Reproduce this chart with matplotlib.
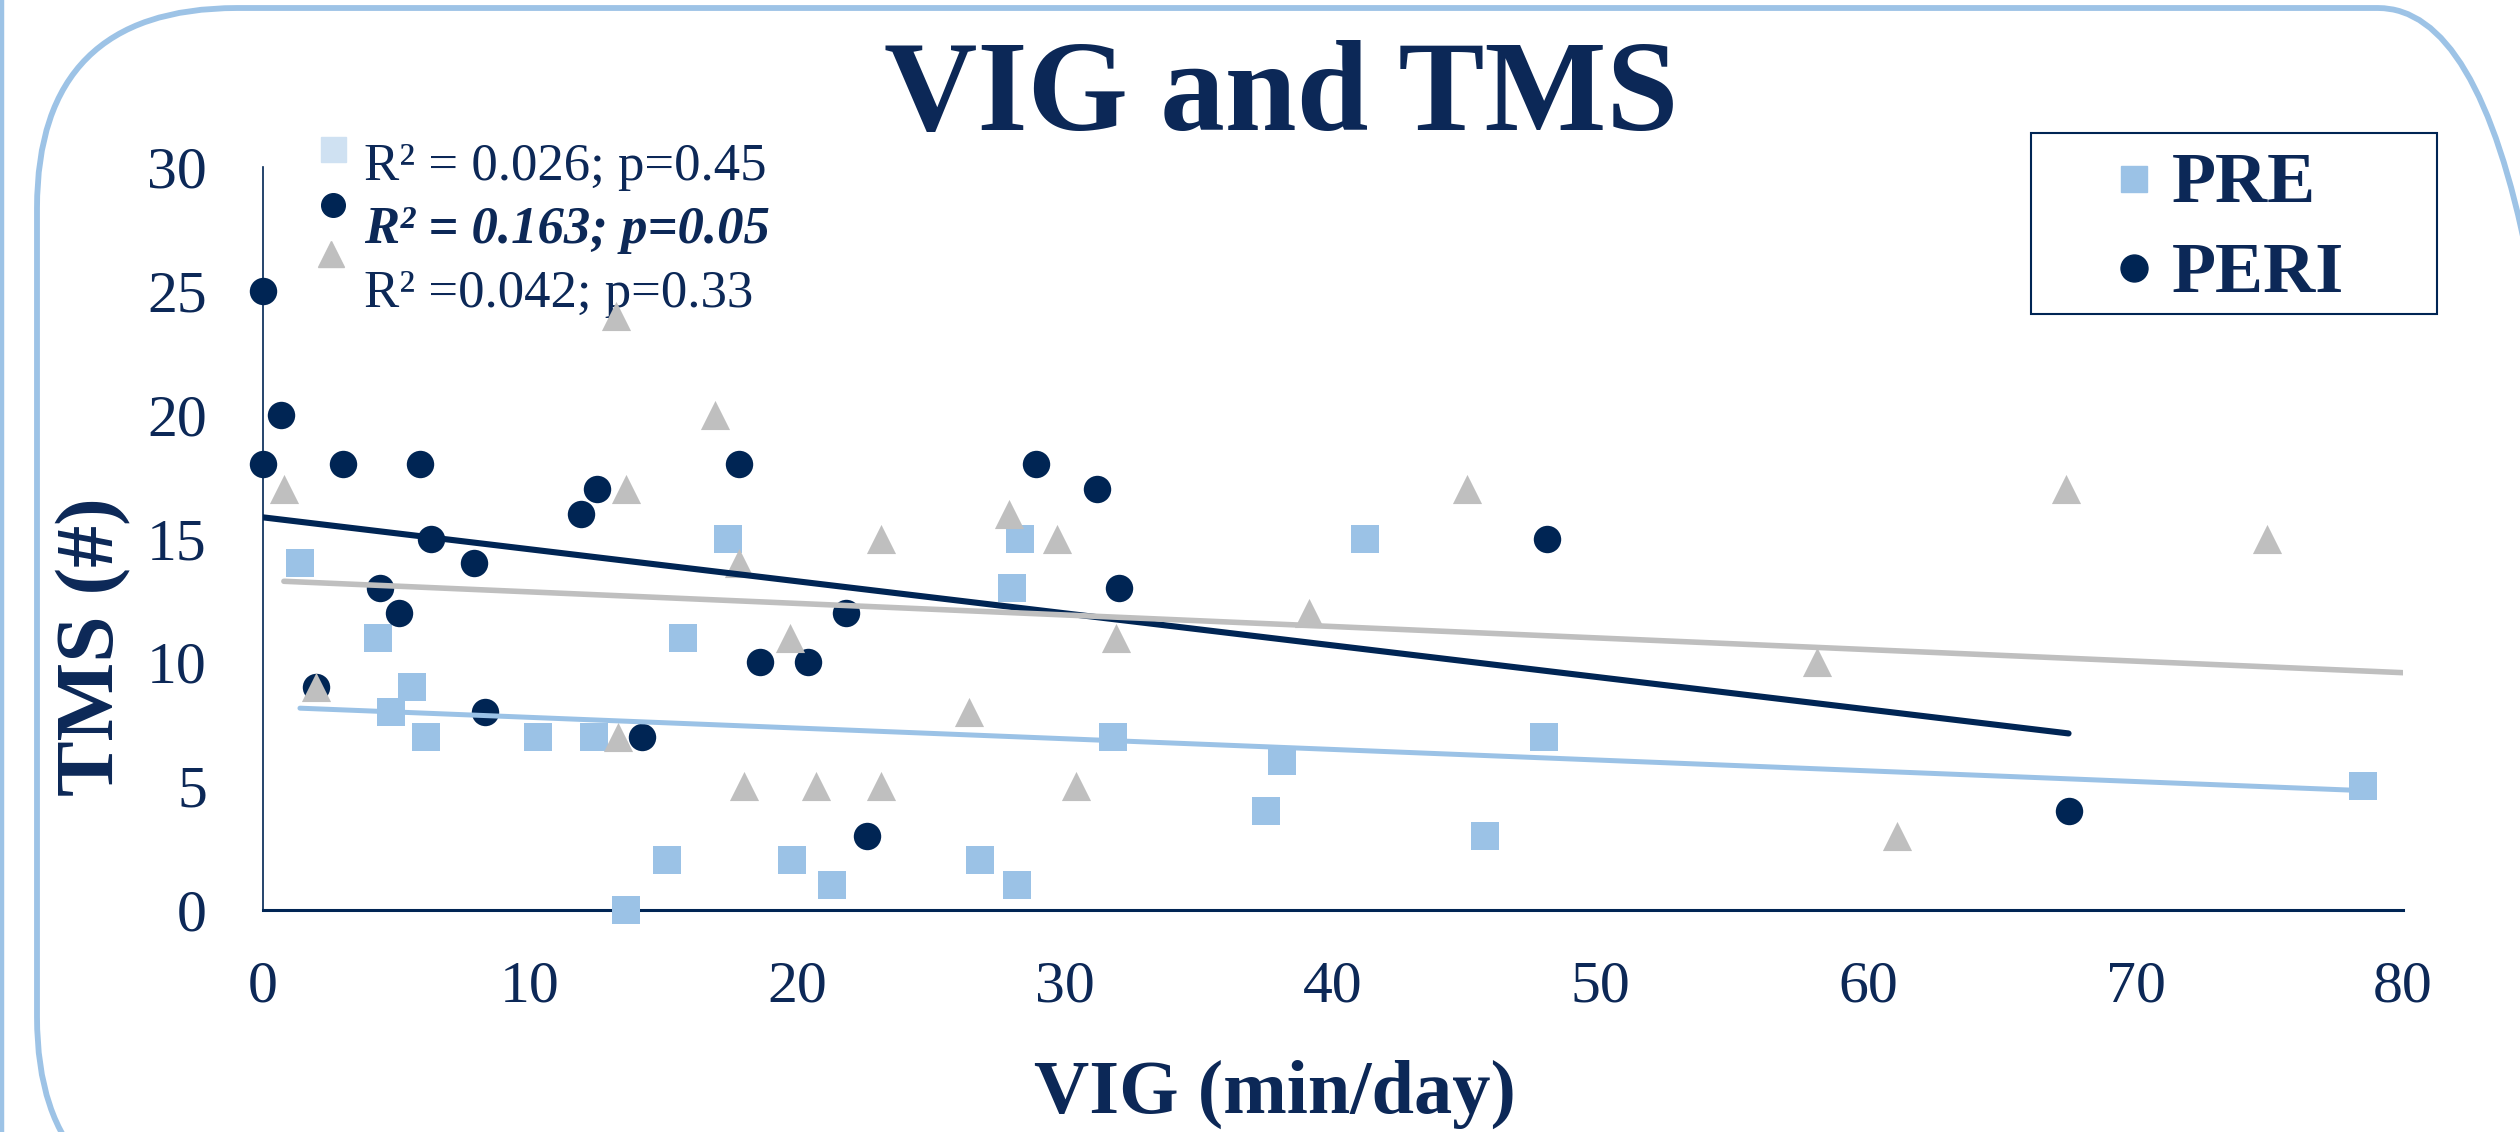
import numpy as np
import matplotlib
matplotlib.use("Agg")
import matplotlib.pyplot as plt
from matplotlib.patches import FancyBboxPatch, Rectangle
from matplotlib.lines import Line2D

# VIG (min/day) vs TMS (#)
pre_x = [1.4, 4.3, 5.6, 4.8, 6.1, 10.3, 12.4, 17.4, 15.7, 15.1, 13.6, 19.8,
         21.3, 28.3, 28.0, 41.2, 31.8, 38.1, 37.5, 47.9, 45.7, 26.8, 28.2, 78.5]
pre_y = [14, 11, 9, 8, 7, 7, 7, 15, 11, 2, 0, 2,
         1, 15, 13, 15, 7, 6, 4, 7, 3, 2, 1, 5]

peri_x = [0, 0.7, 0, 3.0, 5.9, 12.5, 11.9, 6.3, 7.9, 4.4, 5.1, 2.0,
          8.3, 14.2, 17.8, 18.6, 20.4, 21.8, 22.6, 28.9, 31.2, 32.0, 48.0, 67.5]
peri_y = [25, 20, 18, 18, 18, 17, 16, 15, 14, 13, 12, 9,
          8, 7, 18, 10, 10, 12, 3, 18, 17, 13, 15, 4]

post_x = [13.2, 16.9, 0.8, 13.6, 23.1, 17.8, 19.7, 2.0, 13.3, 18.0, 20.7, 23.1,
          27.9, 29.7, 45.0, 39.1, 31.9, 26.4, 30.4, 67.4, 74.9, 58.1, 61.1]
post_y = [24, 20, 17, 17, 15, 14, 11, 9, 7, 5, 5, 5,
          16, 15, 17, 12, 11, 8, 5, 17, 15, 10, 3]
# grey trend runs past the visible points (to the axis end), so it is read
# off the picture as intercept, slope instead of refitted
post_trend = [13.31, -0.0466]

stats = ["R\u00b2 = 0.026; p=0.45", "R\u00b2 = 0.163; p=0.05", "R\u00b2 =0.042; p=0.33"]
x_ticks = [0, 10, 20, 30, 40, 50, 60, 70, 80]
y_ticks = [0, 5, 10, 15, 20, 25, 30]

NAVY = '#002554'
TEXT = '#0c2857'
LIGHT = '#9bc2e6'
PALE = '#cfe1f2'
GRAY = '#bfbfbf'

plt.rcParams['font.family'] = ['Liberation Serif', 'DejaVu Serif']

W, H = 2520, 1132
fig = plt.figure(figsize=(W / 100, H / 100), dpi=100)

# rounded frame around the slide panel (pixel coords)
frame = FancyBboxPatch((37, -85), 2578 - 37, 1124 + 85,
                       boxstyle="round,pad=0,rounding_size=200",
                       fill=False, ec='#9dc3e6', lw=4.2, transform=None)
fig.add_artist(frame)
fig.add_artist(Line2D([2, 2], [0, H], color='#9dc3e6', lw=3.2, transform=None))

ax = fig.add_axes([262.5 / W, 222 / H, 2140.5 / W, 743 / H])
ax.set_xlim(0, 80)
ax.set_ylim(0, 30)
ax.set_xticks(x_ticks)
ax.set_yticks(y_ticks)
ax.tick_params(length=0, labelsize=43, labelcolor=TEXT)
ax.tick_params(axis='x', pad=36)
ax.tick_params(axis='y', pad=40)
for s in ['top', 'right']:
    ax.spines[s].set_visible(False)
ax.spines['left'].set_color(NAVY)
ax.spines['left'].set_linewidth(1.2)
ax.spines['bottom'].set_color(NAVY)
ax.spines['bottom'].set_linewidth(2.2)

ax.scatter(pre_x, pre_y, marker='s', s=380, color=LIGHT, lw=0, zorder=3, clip_on=False)
ax.scatter(peri_x, peri_y, marker='o', s=390, color=NAVY, lw=0, zorder=4, clip_on=False)
ax.scatter(post_x, post_y, marker='^', s=440, color=GRAY, lw=0, zorder=5, clip_on=False)

# linear trend lines
k, b = np.polyfit(pre_x, pre_y, 1)
xx = np.array([min(pre_x), max(pre_x)])
ax.plot(xx, k * xx + b, color=LIGHT, lw=3.6, solid_capstyle='round', zorder=6)

k, b = np.polyfit(peri_x, peri_y, 1)
xx = np.array([min(peri_x), max(peri_x)])
ax.plot(xx, k * xx + b, color=NAVY, lw=4.4, solid_capstyle='round', zorder=6)

xx = np.array([min(post_x), 80])
ax.plot(xx, post_trend[0] + post_trend[1] * xx, color=GRAY, lw=4.0,
        solid_capstyle='round', zorder=6)

# R2 annotations with their markers
tr = ax.transAxes
ax.plot([0.0329], [1.024], 's', ms=18, color=PALE, transform=tr, clip_on=False)
ax.plot([0.0329], [0.949], 'o', ms=17, color=NAVY, transform=tr, clip_on=False)
ax.plot([0.0320], [0.883], '^', ms=19, color=GRAY, transform=tr, clip_on=False)
ax.text(0.0475, 0.9825, stats[0], transform=tr, fontsize=38, color=TEXT, va='baseline')
ax.text(0.0475, 0.8977, stats[1], transform=tr, fontsize=38, color=TEXT, va='baseline',
        weight='bold', style='italic')
ax.text(0.0475, 0.8116, stats[2], transform=tr, fontsize=38, color=TEXT, va='baseline')

# legend box
ax.add_patch(Rectangle((0.8262, 0.8022), 1.0159 - 0.8262, 1.0458 - 0.8022, transform=tr,
                       fill=False, ec=NAVY, lw=1.5, clip_on=False, zorder=7))
ax.plot([0.8743], [0.9845], 's', ms=19.4, color=LIGHT, transform=tr, clip_on=False)
ax.plot([0.8743], [0.864], 'o', ms=19.4, color=NAVY, transform=tr, clip_on=False)
ax.text(0.8922, 0.9529, 'PRE', transform=tr, fontsize=52, weight='bold', color=TEXT, va='baseline')
ax.text(0.8922, 0.8318, 'PERI', transform=tr, fontsize=52, weight='bold', color=TEXT, va='baseline')

fig.text(1281 / W, 1 - 130 / H, 'VIG and TMS', ha='center', va='baseline',
         fontsize=93, weight='bold', color=TEXT)

ax.set_xlabel('VIG (min/day)', fontsize=55, weight='bold', color=TEXT, va='baseline')
ax.xaxis.set_label_coords(0.4728, -0.2732)
ax.set_ylabel('TMS (#)', fontsize=60, weight='bold', color=TEXT, va='baseline')
ax.yaxis.set_label_coords(-0.0698, 0.354)

fig.savefig('out.png', dpi=100)
